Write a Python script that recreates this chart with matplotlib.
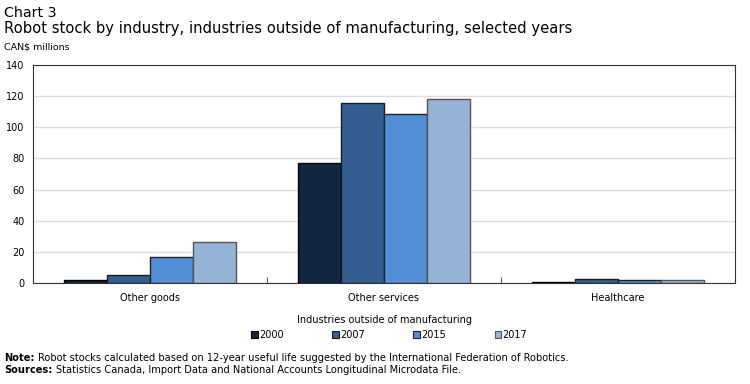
import matplotlib
matplotlib.use("Agg")
import matplotlib.pyplot as plt
import numpy as np
from matplotlib.patches import Patch

categories = ["Other goods", "Other services", "Healthcare"]
years = ["2000", "2007", "2015", "2017"]
v2000 = [2.0, 77.0, 0.5]
v2007 = [5.0, 115.5, 2.7]
v2015 = [16.7, 108.5, 2.2]
v2017 = [26.3, 117.8, 2.2]
series = [v2000, v2007, v2015, v2017]
colors = ["#12263f", "#335e91", "#538fd6", "#95b3d7"]
edges = ["#000000", "#1a1a1a", "#222222", "#555555"]

plt.rcParams['font.family'] = ['DejaVu Sans']
fig = plt.figure(figsize=(7.5, 3.84), dpi=100)
ax = fig.add_axes([0.044, 0.263, 0.936, 0.568])

x = np.arange(len(categories))
w = 0.183
for i, (vals, c, e) in enumerate(zip(series, colors, edges)):
    ax.bar(x + (i - 1.5) * w, vals, width=w, color=c, edgecolor=e, linewidth=1, zorder=3, label=years[i])

ax.set_xlim(-0.5, 2.5)
ax.set_ylim(0, 140)
ax.set_yticks(range(0, 141, 20))
ax.yaxis.grid(True, color="#dddddd", linewidth=1, zorder=0)
ax.set_xticks(x)
ax.set_xticklabels(categories, fontsize=7)
ax.set_xticks([0.5, 1.5], minor=True)
ax.tick_params(axis='x', which='major', length=0, pad=7)
ax.tick_params(axis='x', which='minor', length=4, direction='in', color="#333333")
ax.tick_params(axis='y', length=0, labelsize=7, pad=6)
for s in ax.spines.values():
    s.set_color("#333333")
    s.set_linewidth(0.8)
ax.set_xlabel("Industries outside of manufacturing", fontsize=7, labelpad=9)

handles = [Patch(facecolor=c, edgecolor=e, linewidth=0.8) for c, e in zip(colors, edges)]
fig.legend(handles, years, loc="center", bbox_to_anchor=(0.519, 0.128), ncol=4, frameon=False,
           fontsize=7, handlelength=0.7, handleheight=0.7, handletextpad=0.1, columnspacing=5.0)

fig.text(0.006, 0.966, "Chart 3", fontsize=10.3, va="center")
fig.text(0.006, 0.926, "Robot stock by industry, industries outside of manufacturing, selected years", fontsize=10.6, va="center")
fig.text(0.006, 0.878, "CAN$ millions", fontsize=6.8, va="center")

fig.canvas.draw()
renderer = fig.canvas.get_renderer()
def boldline(y, bold, rest, size):
    t = fig.text(0.006, y, bold, fontsize=size, fontweight="bold", va="center")
    bb = t.get_window_extent(renderer)
    fig.text(bb.x1 / fig.bbox.width + 0.004, y, rest, fontsize=size, va="center")

boldline(0.068, "Note:", "Robot stocks calculated based on 12-year useful life suggested by the International Federation of Robotics.", 7.1)
boldline(0.036, "Sources:", "Statistics Canada, Import Data and National Accounts Longitudinal Microdata File.", 7.1)

fig.savefig("out.png", dpi=100)
